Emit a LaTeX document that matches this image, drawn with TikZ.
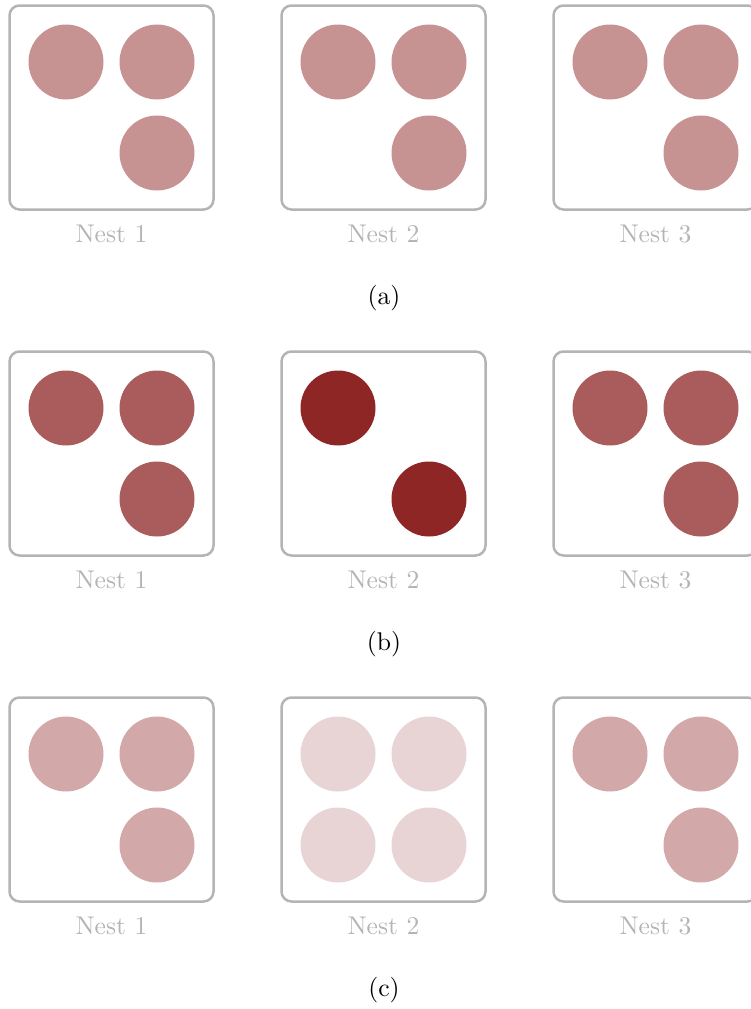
\documentclass[tikz,border=0pt]{standalone}
\usetikzlibrary{calc}
\definecolor{basered}{RGB}{142,38,38}
\definecolor{framegray}{RGB}{180,180,180}
\tikzset{
  nestbox/.style={draw=framegray, line width=2.5pt, rounded corners=10pt, minimum size=204pt, inner sep=0pt},
  disc/.style={circle, minimum size=75pt, inner sep=0pt, draw=none},
  nestlabel/.style={text=framegray, anchor=base, scale=2.56, font=\fontsize{10}{12}\selectfont},
  rowlabel/.style={text=black, anchor=base, scale=2.56, font=\fontsize{10}{12}\selectfont}
}
\begin{document}
\begin{tikzpicture}[x=1pt,y=-1pt]
\useasboundingbox (0,0) rectangle (751,1009);
% rows: a (y=107.5), b (453.5), c (799.5)
\foreach \r/\cy/\lab in {a/107.5/(a), b/453.5/(b), c/799.5/(c)} {
  \foreach \n/\cx in {1/111.5, 2/383.5, 3/655.5} {
    \node[nestbox] (box\r\n) at (\cx,\cy) {};
    \node[nestlabel] (lab\r\n) at (\cx,\cy+134.5) {Nest \n};
  }
  \node[rowlabel] (row\r) at (384,\cy+196.5) {\lab};
}
% row a: all 50%
\foreach \n in {1,2,3} {
  \node[disc, fill=basered!50] (a\n tl) at ($(boxa\n)+(-45.5,-45.5)$) {};
  \node[disc, fill=basered!50] (a\n tr) at ($(boxa\n)+(45.5,-45.5)$) {};
  \node[disc, fill=basered!50] (a\n br) at ($(boxa\n)+(45.5,45.5)$) {};
}
% row b
\foreach \n in {1,3} {
  \node[disc, fill=basered!75] (b\n tl) at ($(boxb\n)+(-45.5,-45.5)$) {};
  \node[disc, fill=basered!75] (b\n tr) at ($(boxb\n)+(45.5,-45.5)$) {};
  \node[disc, fill=basered!75] (b\n br) at ($(boxb\n)+(45.5,45.5)$) {};
}
\node[disc, fill=basered] (b2tl) at ($(boxb2)+(-45.5,-45.5)$) {};
\node[disc, fill=basered] (b2br) at ($(boxb2)+(45.5,45.5)$) {};
% row c
\foreach \n in {1,3} {
  \node[disc, fill=basered!40] (c\n tl) at ($(boxc\n)+(-45.5,-45.5)$) {};
  \node[disc, fill=basered!40] (c\n tr) at ($(boxc\n)+(45.5,-45.5)$) {};
  \node[disc, fill=basered!40] (c\n br) at ($(boxc\n)+(45.5,45.5)$) {};
}
\node[disc, fill=basered!20] (c2tl) at ($(boxc2)+(-45.5,-45.5)$) {};
\node[disc, fill=basered!20] (c2tr) at ($(boxc2)+(45.5,-45.5)$) {};
\node[disc, fill=basered!20] (c2bl) at ($(boxc2)+(-45.5,45.5)$) {};
\node[disc, fill=basered!20] (c2br) at ($(boxc2)+(45.5,45.5)$) {};
\end{tikzpicture}
\end{document}
